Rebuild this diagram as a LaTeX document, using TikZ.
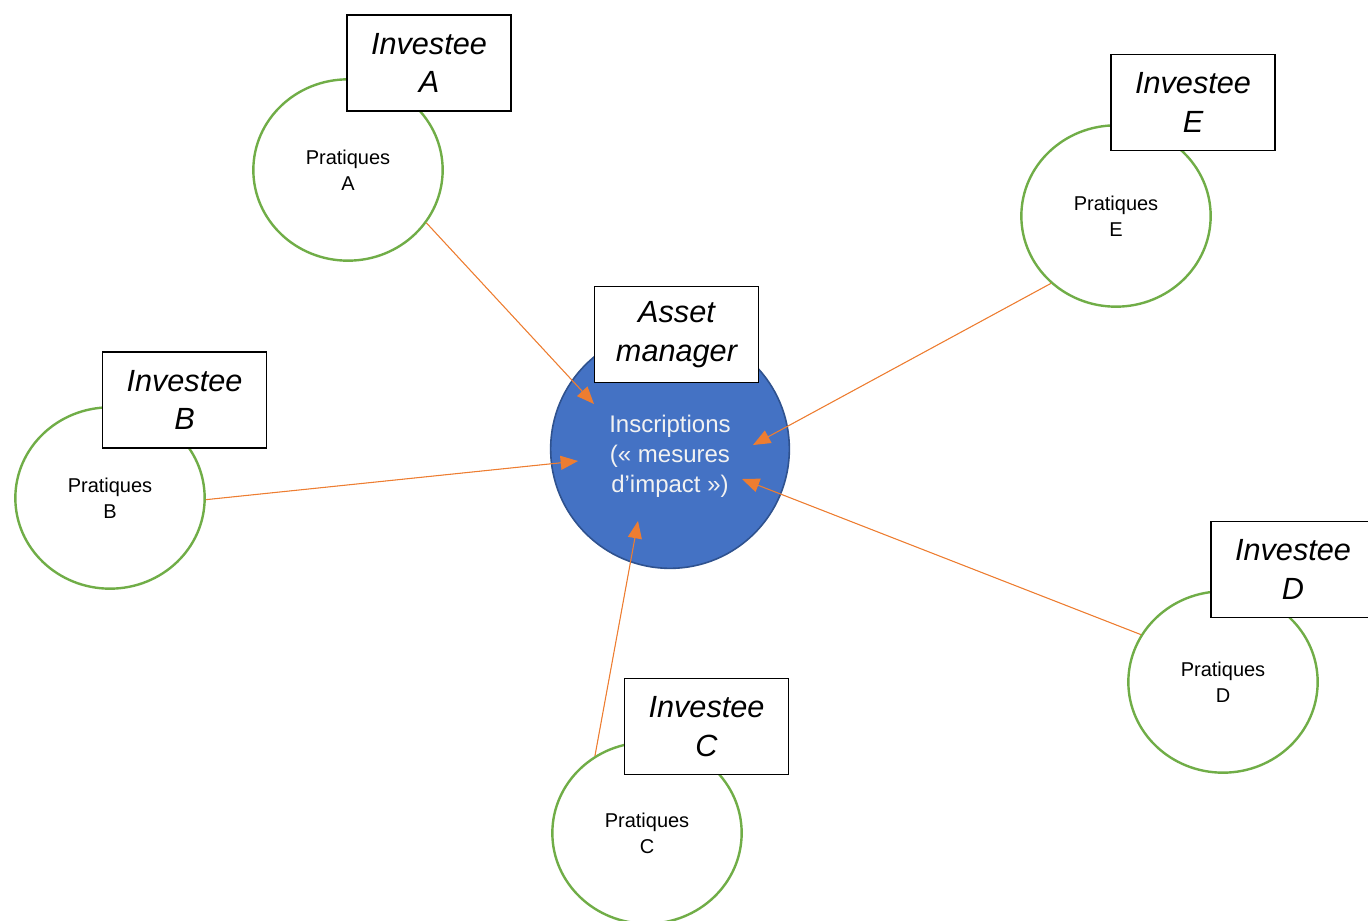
\documentclass[tikz,border=0pt]{standalone}
\usepackage{fontspec}
\setmainfont{Liberation Sans}
\usetikzlibrary{arrows.meta, shapes.geometric}
\definecolor{practicegreen}{HTML}{70AD47}
\definecolor{managerblue}{HTML}{4472C4}
\definecolor{managerborder}{HTML}{2F528F}
\definecolor{linkorange}{HTML}{ED7D31}
\begin{document}
\begin{tikzpicture}[x=0.75pt, y=-0.75pt,
		practice/.style={draw=practicegreen, line width=1.8pt, ellipse, fill=white, minimum width=142pt, minimum height=136pt, inner sep=0pt, align=center, font=\fontsize{15}{19.5}\selectfont},
		owner/.style={draw=black, line width=0.8pt, rectangle, fill=white, minimum width=123pt, minimum height=72pt, align=center, font=\fontsize{23}{29}\selectfont\itshape},
		link/.style={-{Triangle[length=13pt, width=10.5pt]}, draw=linkorange, fill=linkorange, line width=0.8pt}]
	\useasboundingbox (0,0) rectangle (1368,921);

	% Investee practices
	\node[practice] (pA) at (348,170) {Pratiques\\A};
	\node[practice] (pB) at (110,498) {Pratiques\\B};
	\node[practice] (pC) at (647,833) {Pratiques\\C};
	\node[practice] (pD) at (1223,682) {Pratiques\\D};
	\node[practice] (pE) at (1116,216) {Pratiques\\E};

	% Investee labels
	\node[owner] (invA) at (429,63) {Investee\\A};
	\node[owner] (invB) at (184.5,400) {Investee\\B};
	\node[owner] (invC) at (706.5,726.5) {Investee\\C};
	\node[owner] (invD) at (1293,569.5) {Investee\\D};
	\node[owner] (invE) at (1193,102.5) {Investee\\E};

	% Asset manager
	\node[circle, draw=managerborder, line width=1.2pt, fill=managerblue, minimum size=179pt, inner sep=0pt, align=center, text=white!95!black, font=\fontsize{18}{22.5}\selectfont] (inscr) at (670,449) {\\[2pt]Inscriptions\\(« mesures\\d’impact »)};
	\coordinate (tipA) at (594,404);
	\coordinate (tipB) at (578,461);
	\coordinate (tipC) at (638,521);
	\coordinate (tipD) at (742,479);
	\coordinate (tipE) at (753,445);

	% Links
	\draw[link] (pA.-34) -- (tipA);
	\draw[link] (pB.-1) -- (tipB);
	\draw[link] (pC.124) -- (tipC);
	\draw[link] (pD.150) -- (tipD);
	\draw[link] (pE.-134) -- (tipE);

	\node[owner] (am) at (676.5,334.5) {Asset\\manager};
\end{tikzpicture}
\end{document}
